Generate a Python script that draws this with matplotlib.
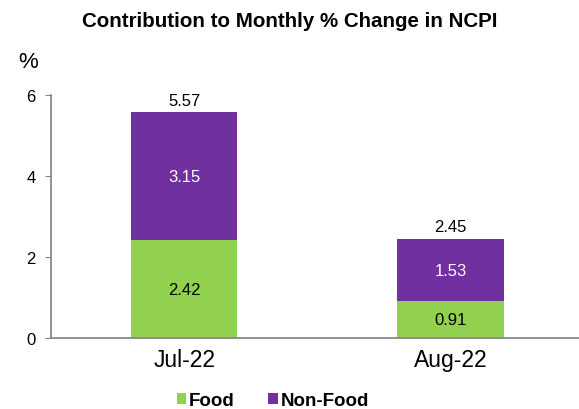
import matplotlib.pyplot as plt
import numpy as np

plt.rcParams['font.family'] = ['Liberation Sans', 'DejaVu Sans']

months = ["Jul-22", "Aug-22"]
food = [2.42, 0.91]
non_food = [3.15, 1.53]
totals = [5.57, 2.45]

green = "#92D050"
purple = "#7030A0"

fig = plt.figure(figsize=(5.79, 4.10), dpi=100)
ax = fig.add_axes([0.088, 0.173, 0.92, 0.593])

x = np.arange(len(months))
w = 0.4
ax.bar(x, food, w, color=green, label="Food")
ax.bar(x, non_food, w, bottom=food, color=purple, label="Non-Food")

for i in range(len(months)):
    ax.text(x[i], food[i] / 2, f"{food[i]:.2f}", ha="center", va="center",
            fontsize=12, color="black")
    ax.text(x[i], food[i] + non_food[i] / 2, f"{non_food[i]:.2f}", ha="center",
            va="center", fontsize=12, color="white")
    ax.text(x[i], totals[i] + 0.12, f"{totals[i]:.2f}", ha="center",
            va="bottom", fontsize=12, color="black")

ax.set_xlim(-0.5, 1.5)
ax.set_ylim(0, 6)
ax.set_yticks([0, 2, 4, 6])
ax.set_xticks(x)
ax.set_xticklabels(months, fontsize=16.5)
ax.tick_params(axis="y", labelsize=12, length=4, pad=7, color="#808080")
ax.tick_params(axis="x", length=0, pad=7)
for s in ["top", "right"]:
    ax.spines[s].set_visible(False)
for s in ["left", "bottom"]:
    ax.spines[s].set_color("#808080")
    ax.spines[s].set_linewidth(1.2)

fig.text(0.5, 0.947, "Contribution to Monthly % Change in NCPI", ha="center",
         va="center", fontsize=14.8, fontweight="bold")
fig.text(0.048, 0.848, "%", ha="center", va="center", fontsize=16)

leg = fig.legend(loc="center", bbox_to_anchor=(0.471, 0.02), ncol=2, frameon=False,
                 prop={"weight": "bold", "size": 13.5}, handlelength=0.5,
                 handleheight=0.5, handletextpad=0.15, columnspacing=1.8)

fig.savefig("out.png", dpi=100)
